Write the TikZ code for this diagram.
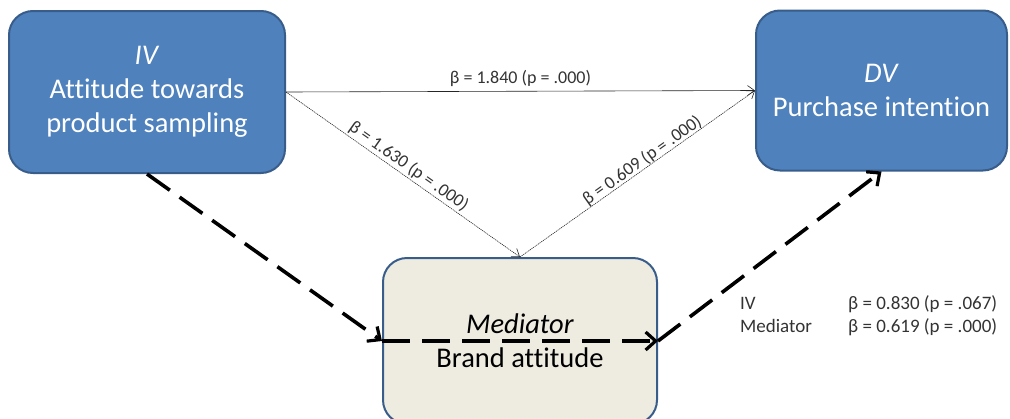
\documentclass[tikz,border=0pt]{standalone}
\usepackage{fontspec}
\setmainfont{Carlito}[Ligatures=NoCommon]
\usetikzlibrary{arrows.meta}
\definecolor{boxblue}{HTML}{4F81BD}
\definecolor{boxedge}{HTML}{385D8A}
\definecolor{medfill}{HTML}{EEECE1}
\definecolor{labgray}{HTML}{333333}
\tikzset{
  varbox/.style={draw=boxedge, line width=2pt, rounded corners=24pt, align=center,
    inner sep=0pt, font=\fontsize{28.5}{34}\selectfont},
  bluebox/.style={varbox, fill=boxblue, text=white},
  medbox/.style={varbox, fill=medfill, text=black},
  thinpath/.style={draw=black!85, line width=0.6pt, -{Straight Barb[length=7pt,width=10pt]}},
  dotpath/.style={thinpath, dash pattern=on 1.2pt off 0.8pt},
  dashpath/.style={draw=black, line width=3.6pt, dash pattern=on 28pt off 12pt,
    -{Straight Barb[length=10pt,width=18pt,line width=3.2pt]}},
  coef/.style={font=\fontsize{18}{21}\selectfont, text=labgray, inner sep=1.5pt},
  legend/.style={font=\fontsize{19}{23}\selectfont, text=labgray, inner sep=0pt, anchor=base west},
}
\begin{document}
\begin{tikzpicture}[x=1pt,y=-1pt]
  \clip (0,0) rectangle (1010,418);
  \useasboundingbox (0,0) rectangle (1010,418);

  % variables
  \node[bluebox, minimum width=276pt, minimum height=162pt] (iv) at (147,92)
    {\textit{IV}\\Attitude towards\\product sampling};
  \node[bluebox, minimum width=251pt, minimum height=160pt] (dv) at (881.5,90.5)
    {\textit{DV}\\Purchase intention};
  \node[medbox, minimum width=274pt, minimum height=166pt] (med) at (520,341)
    {\textit{Mediator}\\Brand attitude};

  % direct and indirect paths
  \draw[thinpath] (iv.east) -- node[coef, above=3pt] {β = 1.840 (p = .000)} (dv.west);
  \draw[dotpath] (iv.east) -- node[coef, sloped, above=0pt, pos=0.5] {β = 1.630 (p = .000)} (med.north);
  \draw[dotpath] (med.north) -- node[coef, sloped, above=-2pt, pos=0.54] {β = 0.609 (p = .000)} (dv.west);

  % mediated path
  \draw[dashpath] (iv.south) -- (med.west);
  \draw[dashpath] (med.west) -- (med.east);
  \draw[dashpath] (med.east) -- (dv.south);

  % combined model coefficients
  \node[legend] (l1) at (740,309) {IV};
  \node[legend] (l2) at (740,332) {Mediator};
  \node[legend] (c1) at (848,309) {β = 0.830 (p = .067)};
  \node[legend] (c2) at (848,332) {β = 0.619 (p = .000)};
\end{tikzpicture}
\end{document}
